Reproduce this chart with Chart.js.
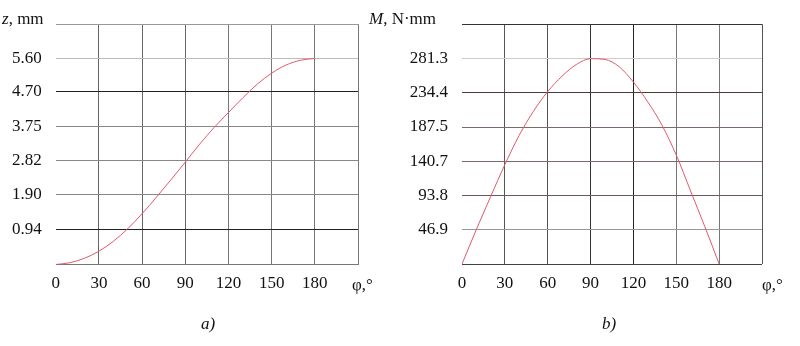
<!DOCTYPE html>
<html>
<head>
<meta charset="utf-8">
<script src="https://cdn.jsdelivr.net/npm/chart.js@4/dist/chart.umd.min.js"></script>
<style>
body { margin: 0; background: #fff; }
#wrap { position: relative; width: 800px; height: 346px; font-family: "Liberation Serif", serif; color: #111; }
canvas { position: absolute; top: 0; }
.lbl { position: absolute; font-size: 17px; line-height: 17px; white-space: nowrap; }
</style>
</head>
<body>
<div id="wrap">
  <canvas id="chart-a" width="400" height="346" style="left:0"></canvas>
  <canvas id="chart-b" width="400" height="346" style="left:400px"></canvas>
  <div class="lbl" style="left:2px;top:10px"><i>z</i>, mm</div>
  <div class="lbl" style="left:369px;top:10px"><i>M</i>, N·mm</div>
  <div class="lbl" style="left:352px;top:276px">φ,°</div>
  <div class="lbl" style="left:762px;top:276px">φ,°</div>
  <div class="lbl" style="left:201px;top:315px"><i>a)</i></div>
  <div class="lbl" style="left:602px;top:315px"><i>b)</i></div>
</div>
<script>
// rotation angle, degrees
const phi = [0, 10, 20, 30, 40, 50, 60, 70, 80, 90, 100, 110, 120, 130, 140, 150, 160, 170, 180];
// lift z, mm
const zValues = [0, 0.05, 0.17, 0.36, 0.63, 0.97, 1.38, 1.83, 2.30, 2.78, 3.27, 3.72, 4.13, 4.53, 4.90, 5.20, 5.42, 5.55, 5.60];
// moment M, N·mm
const mValues = [0, 47, 92, 136, 176, 209, 236, 257, 273, 281, 280, 270, 249, 222, 190, 149, 100, 51, 0];

const xTicks = [0, 30, 60, 90, 120, 150, 180, 210];
const xLabels = ['0', '30', '60', '90', '120', '150', '180', ''];
const zTicks = [0, 0.94, 1.90, 2.82, 3.75, 4.70, 5.60, 6.53];
const zLabels = ['', '0.94', '1.90', '2.82', '3.75', '4.70', '5.60', ''];
const mTicks = [0, 46.9, 93.8, 140.7, 187.5, 234.4, 281.3, 328.2];
const mLabels = ['', '46.9', '93.8', '140.7', '187.5', '234.4', '281.3', ''];

const tickFont = { family: 'Liberation Serif', size: 17 };

function drawChart(id, yValues, yTicks, yLabels, opts) {
    return new Chart(document.getElementById(id), {
        type: 'line',
        data: {
            datasets: [{
                data: phi.map((p, i) => ({ x: p, y: yValues[i] })),
                borderColor: '#e05a6a',
                borderWidth: 1,
                pointRadius: 0,
                cubicInterpolationMode: 'monotone',
                fill: false
            }]
        },
        options: {
            responsive: false,
            animation: false,
            layout: { padding: { top: 22, right: opts.padRight, left: 0, bottom: 0 } },
            plugins: { legend: { display: false }, tooltip: { enabled: false } },
            scales: {
                x: {
                    type: 'linear', min: 0, max: 210,
                    afterBuildTicks: s => { s.ticks = xTicks.map(v => ({ value: v })); },
                    afterFit: s => { s.height = 346 - opts.bottom; },
                    grid: { color: c => opts.vGrid[c.index], drawTicks: false },
                    border: { display: false },
                    ticks: { padding: 9, font: tickFont, color: '#111', autoSkip: false, maxRotation: 0,
                        callback: (v, i) => xLabels[i] }
                },
                y: {
                    type: 'linear', min: 0, max: yTicks[yTicks.length - 1],
                    afterBuildTicks: s => { s.ticks = yTicks.map(v => ({ value: v })); },
                    afterFit: s => { s.width = opts.left; },
                    grid: { color: c => opts.hGrid[c.index], drawTicks: false },
                    border: { display: false },
                    ticks: { padding: 14, font: tickFont, color: '#111', autoSkip: false,
                        callback: (v, i) => yLabels[i] }
                }
            }
        }
    });
}

drawChart('chart-a', zValues, zTicks, zLabels, {
    left: 55.7, padRight: 42, bottom: 264.5,
    vGrid: ['rgba(0,0,0,0)', '#666', '#666', '#666', '#777', '#777', '#777', '#777'],
    hGrid: ['#777', '#222', '#888', '#888', '#888', '#222', '#bbb', '#999']
});
drawChart('chart-b', mValues, mTicks, mLabels, {
    left: 62, padRight: 38, bottom: 264,
    vGrid: ['rgba(0,0,0,0)', '#555', '#555', '#333', '#222', '#777', '#777', '#555'],
    hGrid: ['#444', '#999', '#6a5a5a', '#7a6a6a', '#7a6a6a', '#4a3a3a', '#ccc', '#333']
});
</script>
</body>
</html>
